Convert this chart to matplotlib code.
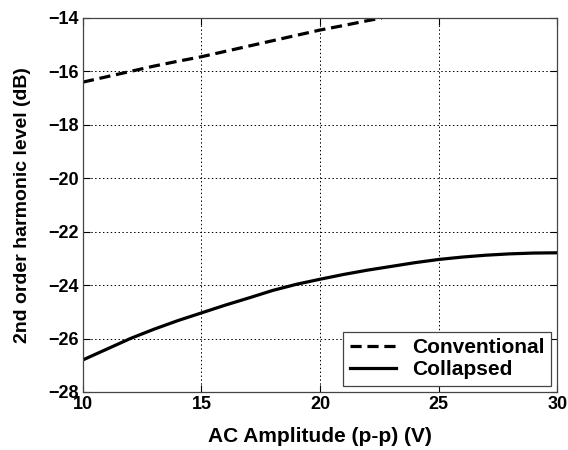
import matplotlib.pyplot as plt

# values
amp_conv = [10, 11, 12, 13, 14, 15, 16, 17, 18, 19, 20, 21, 22, 22.6]
conv_db = [-16.4, -16.2, -16.0, -15.8, -15.62, -15.45, -15.25, -15.05, -14.85, -14.65, -14.45, -14.28, -14.1, -14.0]

amp_coll = [10, 11, 12, 13, 14, 15, 16, 17, 18, 19, 20, 21, 22, 23, 24, 25, 26, 27, 28, 29, 30]
coll_db = [-26.8, -26.4, -26.0, -25.65, -25.33, -25.04, -24.75, -24.48, -24.2, -23.97, -23.78,
           -23.6, -23.44, -23.3, -23.16, -23.04, -22.95, -22.88, -22.83, -22.8, -22.79]

x_ticks = [10, 15, 20, 25, 30]
y_ticks = [-28, -26, -24, -22, -20, -18, -16, -14]

plt.rcParams["font.family"] = ["Liberation Sans", "DejaVu Sans"]
plt.rcParams["font.weight"] = "bold"

fig = plt.figure(figsize=(5.68, 4.5), dpi=100)
ax = fig.add_axes([0.146, 0.129, 0.835, 0.831])

ax.plot(amp_conv, conv_db, color="black", linestyle=(0, (3.5, 1.8)), linewidth=2.3, label="Conventional")
ax.plot(amp_coll, coll_db, color="black", linestyle="-", linewidth=2.3, label="Collapsed")

ax.set_xlim(10, 30)
ax.set_ylim(-28, -14)
ax.set_xticks(x_ticks)
ax.set_yticks(y_ticks)
ax.tick_params(direction="in", labelsize=13, length=5, width=0.8, top=True, right=True, pad=3)
for lab in ax.get_xticklabels() + ax.get_yticklabels():
    lab.set_fontweight("bold")

ax.grid(True, color="black", linestyle=(0, (1.5, 2.5)), linewidth=0.7)
for s in ax.spines.values():
    s.set_color("#444444")
    s.set_linewidth(0.9)

ax.set_xlabel("AC Amplitude (p-p) (V)", fontsize=15, fontweight="bold", labelpad=10)
ax.set_ylabel("2nd order harmonic level (dB)", fontsize=14, fontweight="bold", labelpad=12)

leg = ax.legend(loc="lower right", fontsize=15, frameon=True, fancybox=False,
                edgecolor="#444444", framealpha=1, handlelength=2.2, borderaxespad=0.3,
                borderpad=0.3, labelspacing=0.15, handletextpad=0.8)
leg.get_frame().set_linewidth(0.9)
for t in leg.get_texts():
    t.set_fontweight("bold")

fig.savefig("out.png", dpi=100)
